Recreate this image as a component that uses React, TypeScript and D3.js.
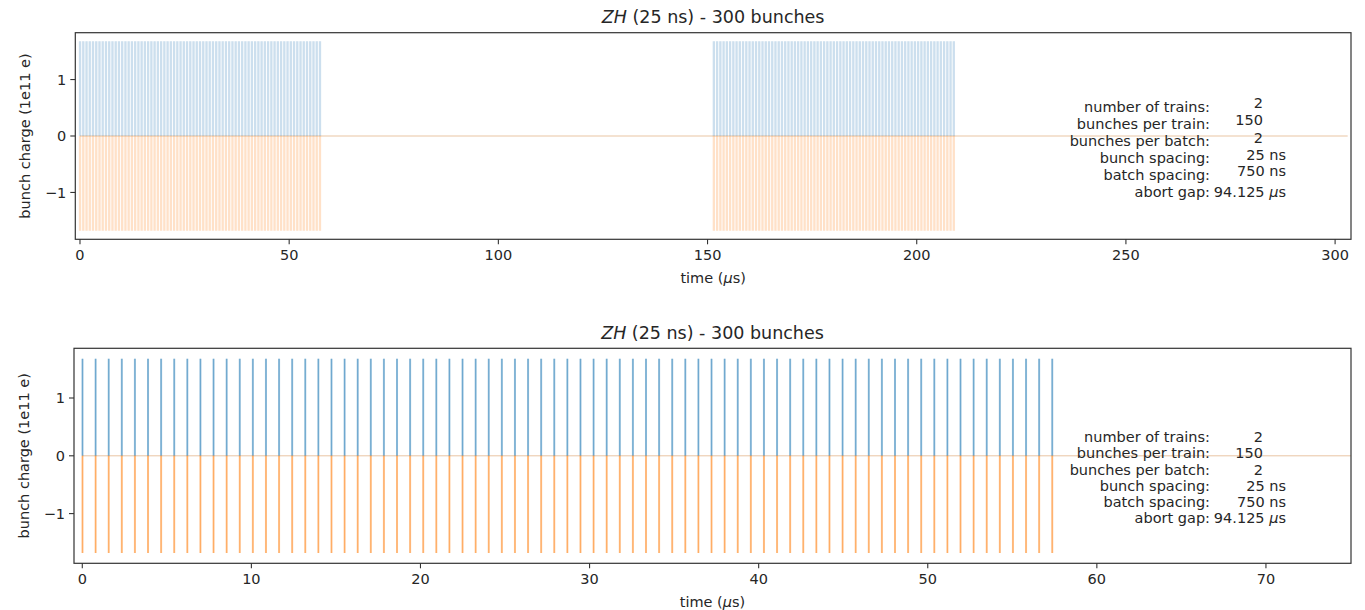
import * as d3 from "d3";

// filling pattern (times in µs)
const trainStarts = [0, 151.5];
const batchStarts = [
  0, 0.775, 1.55, 2.325, 3.1, 3.875, 4.65, 5.425, 6.2, 6.975,
  7.75, 8.525, 9.3, 10.075, 10.85, 11.625, 12.4, 13.175, 13.95, 14.725,
  15.5, 16.275, 17.05, 17.825, 18.6, 19.375, 20.15, 20.925, 21.7, 22.475,
  23.25, 24.025, 24.8, 25.575, 26.35, 27.125, 27.9, 28.675, 29.45, 30.225,
  31, 31.775, 32.55, 33.325, 34.1, 34.875, 35.65, 36.425, 37.2, 37.975,
  38.75, 39.525, 40.3, 41.075, 41.85, 42.625, 43.4, 44.175, 44.95, 45.725,
  46.5, 47.275, 48.05, 48.825, 49.6, 50.375, 51.15, 51.925, 52.7, 53.475,
  54.25, 55.025, 55.8, 56.575, 57.35,
];
const bunchOffsets = [0, 0.025];
const bunchCharge = 1.68;
const ringLength = 303;

const infoLabels = [
  "number of trains:",
  "bunches per train:",
  "bunches per batch:",
  "bunch spacing:",
  "batch spacing:",
  "abort gap:",
];
const infoValues = ["2", "150", "2", "25 ns", "750 ns", "94.125 μs"];

const topTicks = [0, 50, 100, 150, 200, 250, 300];
const bottomTicks = [0, 10, 20, 30, 40, 50, 60, 70];
const yTicks = [-1, 0, 1];

const bunchTimes: number[] = [];
trainStarts.forEach((t) =>
  batchStarts.forEach((b) => bunchOffsets.forEach((o) => bunchTimes.push(t + b + o)))
);

const FONT = "'DejaVu Sans', sans-serif";
const BLUE = "#1f77b4";
const ORANGE = "#ff7f0e";
const AX = "#333";

const panels = [
  {
    xDomain: [-1.12, 303.8],
    left: 75.3, right: 1351, top: 32.7, bottom: 239.3,
    yMax: 1.83,
    ticks: topTicks,
    lineOpacity: 0.12, lineWidth: 2.3,
    labelRows: [107, 124, 141, 158, 175, 192],
    valueRows: [102.5, 119.5, 137.5, 154.5, 171, 192],
  },
  {
    xDomain: [-0.49, 75.03],
    left: 74, right: 1351, top: 348.3, bottom: 563.3,
    yMax: 1.86,
    ticks: bottomTicks,
    lineOpacity: 0.4, lineWidth: 1.6,
    labelRows: [436.7, 453.2, 469.5, 485.5, 501.8, 518.2],
    valueRows: [436.7, 453.2, 469.5, 485.5, 501.8, 518.2],
  },
];

function Panel({ p }: { p: (typeof panels)[number] }) {
  const x = d3.scaleLinear().domain(p.xDomain).range([p.left, p.right]);
  const y = d3.scaleLinear().domain([-p.yMax, p.yMax]).range([p.bottom, p.top]);
  const cx = (p.left + p.right) / 2;
  const cy = (p.top + p.bottom) / 2;
  const visible = bunchTimes.filter((t) => t <= p.xDomain[1]);
  const zeroEnd = Math.min(ringLength, p.xDomain[1]);
  return (
    <g fontFamily={FONT} fill="#262626">
      <defs>
        <clipPath id={`clip${p.top}`}>
          <rect x={p.left} y={p.top} width={p.right - p.left} height={p.bottom - p.top} />
        </clipPath>
      </defs>
      <g clipPath={`url(#clip${p.top})`}>
        <line x1={x(0)} x2={x(zeroEnd)} y1={y(0)} y2={y(0)} stroke={BLUE} strokeOpacity={0.12} />
        <line x1={x(0)} x2={x(zeroEnd)} y1={y(0)} y2={y(0)} stroke={ORANGE} strokeOpacity={0.35} />
        {visible.map((t, i) => (
          <line key={"b" + i} x1={x(t)} x2={x(t)} y1={y(0)} y2={y(bunchCharge)}
            stroke={BLUE} strokeOpacity={p.lineOpacity} strokeWidth={p.lineWidth} />
        ))}
        {visible.map((t, i) => (
          <line key={"o" + i} x1={x(t)} x2={x(t)} y1={y(0)} y2={y(-bunchCharge)}
            stroke={ORANGE} strokeOpacity={p.lineOpacity} strokeWidth={p.lineWidth} />
        ))}
      </g>
      <rect x={p.left} y={p.top} width={p.right - p.left} height={p.bottom - p.top}
        fill="none" stroke={AX} strokeWidth={1.2} />
      {p.ticks.map((t) => (
        <g key={t}>
          <line x1={x(t)} x2={x(t)} y1={p.bottom} y2={p.bottom + 5} stroke={AX} strokeWidth={1.1} />
          <text x={x(t)} y={p.bottom + 21} textAnchor="middle" fontSize={14.5}>{t}</text>
        </g>
      ))}
      {yTicks.map((t) => (
        <g key={t}>
          <line x1={p.left - 5} x2={p.left} y1={y(t)} y2={y(t)} stroke={AX} strokeWidth={1.1} />
          <text x={p.left - 9} y={y(t)} dy="0.36em" textAnchor="end" fontSize={14.5}>
            {t < 0 ? "\u2212" + Math.abs(t) : t}
          </text>
        </g>
      ))}
      <text x={cx} y={p.bottom + 44} textAnchor="middle" fontSize={14.5}>
        time (<tspan fontStyle="italic">μ</tspan>s)
      </text>
      <text transform={`translate(${p.left - 45},${cy}) rotate(-90)`} textAnchor="middle" fontSize={14.5}>
        bunch charge (1e11 e)
      </text>
      <text x={cx} y={p.top - 9.5} textAnchor="middle" fontSize={17.5}>
        <tspan fontStyle="italic">ZH</tspan> (25 ns) - 300 bunches
      </text>
      {infoLabels.map((s, i) => (
        <text key={s} x={1210} y={p.labelRows[i]} dy="0.36em" textAnchor="end" fontSize={14.5}>{s}</text>
      ))}
      {infoValues.map((s, i) => {
        const [num, unit] = s.split(" ");
        return (
          <text key={i} x={unit ? 1286 : 1263} y={p.valueRows[i]} dy="0.36em" textAnchor="end" fontSize={14.5}>
            {num}
            {unit ? " " : null}
            {unit === "μs" ? (<><tspan fontStyle="italic">μ</tspan>s</>) : unit}
          </text>
        );
      })}
    </g>
  );
}

export default function App() {
  return (
    <svg width={1365} height={610} style={{ position: "absolute", left: 0, top: 0, background: "#fff" }}>
      <rect width={1365} height={610} fill="#fff" />
      {panels.map((p, i) => (
        <Panel key={i} p={p} />
      ))}
    </svg>
  );
}
